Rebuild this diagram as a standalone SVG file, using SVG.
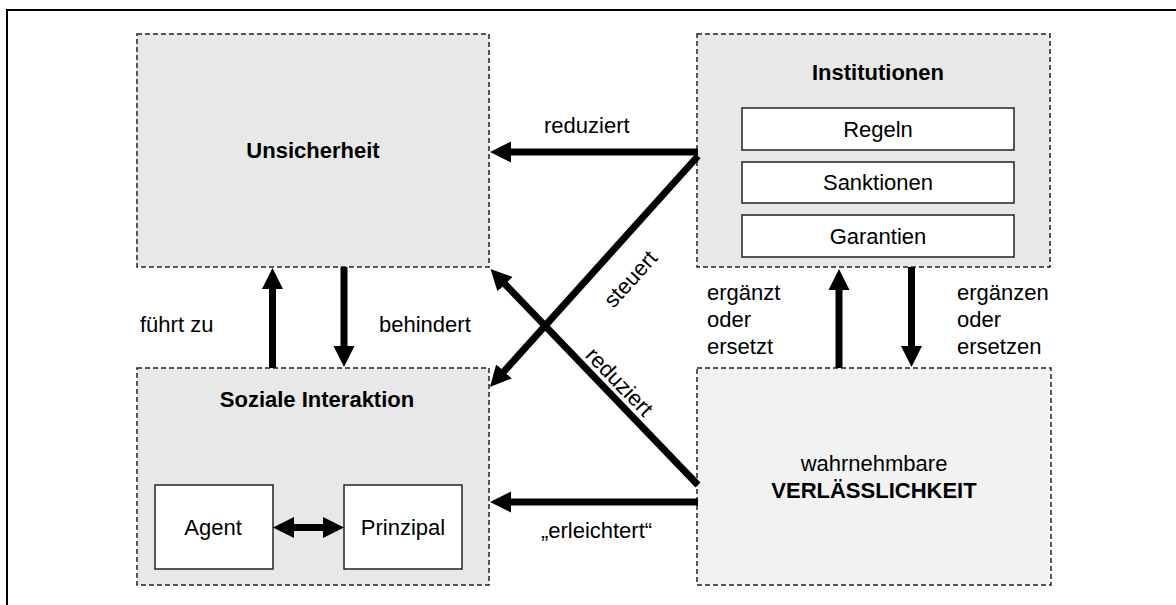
<svg xmlns="http://www.w3.org/2000/svg" width="1176" height="605" viewBox="0 0 1176 605">
<style>
.frame{fill:none;stroke:#000;stroke-width:2}
.box{fill:#e8e8e8;stroke:#222;stroke-width:1.5;stroke-dasharray:5 3}
.box2{fill:#f2f2f2;stroke:#222;stroke-width:1.5;stroke-dasharray:5 3}
.inner{fill:#fff;stroke:#222;stroke-width:1.5}
text{font-family:"Liberation Sans",Arial,sans-serif;font-size:22px;fill:#000}
.b{font-weight:bold}
.c{text-anchor:middle}
.arr{stroke:#000;stroke-width:7;fill:none;marker-end:url(#ah)}
.dbl{stroke:#000;stroke-width:7;fill:none;marker-end:url(#ah);marker-start:url(#ahs)}
.ln{stroke:#000;stroke-width:7;fill:none}
</style>
<defs>
<marker id="ah" markerUnits="userSpaceOnUse" markerWidth="22" markerHeight="22" refX="3" refY="10.5" orient="auto">
<path d="M0,0 L21,10.5 L0,21 Z" fill="#000"/>
</marker>
<marker id="ahs" markerUnits="userSpaceOnUse" markerWidth="22" markerHeight="22" refX="3" refY="10.5" orient="auto-start-reverse">
<path d="M0,0 L21,10.5 L0,21 Z" fill="#000"/>
</marker>
</defs>
<rect class="frame" x="7" y="10" width="1300" height="700"/>

<g id="unsicherheit">
<rect class="box" x="137" y="34" width="352" height="233"/>
<text class="b c" x="313" y="158">Unsicherheit</text>
</g>

<g id="institutionen">
<rect class="box" x="697" y="34" width="353" height="233"/>
<text class="b c" x="878" y="80">Institutionen</text>
<g id="regeln"><rect class="inner" x="742" y="108" width="272" height="42"/><text class="c" x="878" y="137">Regeln</text></g>
<g id="sanktionen"><rect class="inner" x="742" y="162" width="272" height="41"/><text class="c" x="878" y="190">Sanktionen</text></g>
<g id="garantien"><rect class="inner" x="742" y="215" width="272" height="42"/><text class="c" x="878" y="244">Garantien</text></g>
</g>

<g id="soziale-interaktion">
<rect class="box" x="137" y="368" width="352" height="217"/>
<text class="b c" x="317" y="407">Soziale Interaktion</text>
<g id="agent"><rect class="inner" x="155" y="485" width="118" height="84"/><text class="c" x="213" y="535">Agent</text></g>
<g id="prinzipal"><rect class="inner" x="344" y="485" width="118" height="84"/><text class="c" x="403" y="535">Prinzipal</text></g>
</g>

<g id="verlaesslichkeit">
<rect class="box2" x="697" y="368" width="354" height="217"/>
<text class="c" x="874" y="471">wahrnehmbare</text>
<text class="b c" x="874" y="498">VERLÄSSLICHKEIT</text>
</g>

<g id="connectors">
<line class="arr" x1="698" y1="152" x2="508" y2="152"/>
<line class="arr" x1="698" y1="156" x2="502" y2="373.6"/>
<line class="arr" x1="698" y1="485" x2="503" y2="282"/>
<line class="arr" x1="698" y1="502" x2="508" y2="502"/>
<line class="arr" x1="272.5" y1="368" x2="272.5" y2="286"/>
<line class="arr" x1="344" y1="267" x2="344" y2="349"/>
<line class="arr" x1="839" y1="368" x2="839" y2="287"/>
<line class="arr" x1="911.5" y1="267" x2="911.5" y2="349"/>
<line class="dbl" x1="291" y1="527.5" x2="326" y2="527.5"/>
<text x="544" y="133">reduziert</text>
<text x="140" y="332">führt zu</text>
<text x="379" y="332">behindert</text>
<text class="c" x="596.5" y="538">„erleichtert“</text>
<text x="707" y="300">ergänzt</text>
<text x="707" y="327">oder</text>
<text x="707" y="354">ersetzt</text>
<text x="957" y="300">ergänzen</text>
<text x="957" y="327">oder</text>
<text x="957" y="354">ersetzen</text>
<text class="c" transform="translate(636,284) rotate(-48)">steuert</text>
<text class="c" transform="translate(614,387) rotate(46)">reduziert</text>
</g>
</svg>
